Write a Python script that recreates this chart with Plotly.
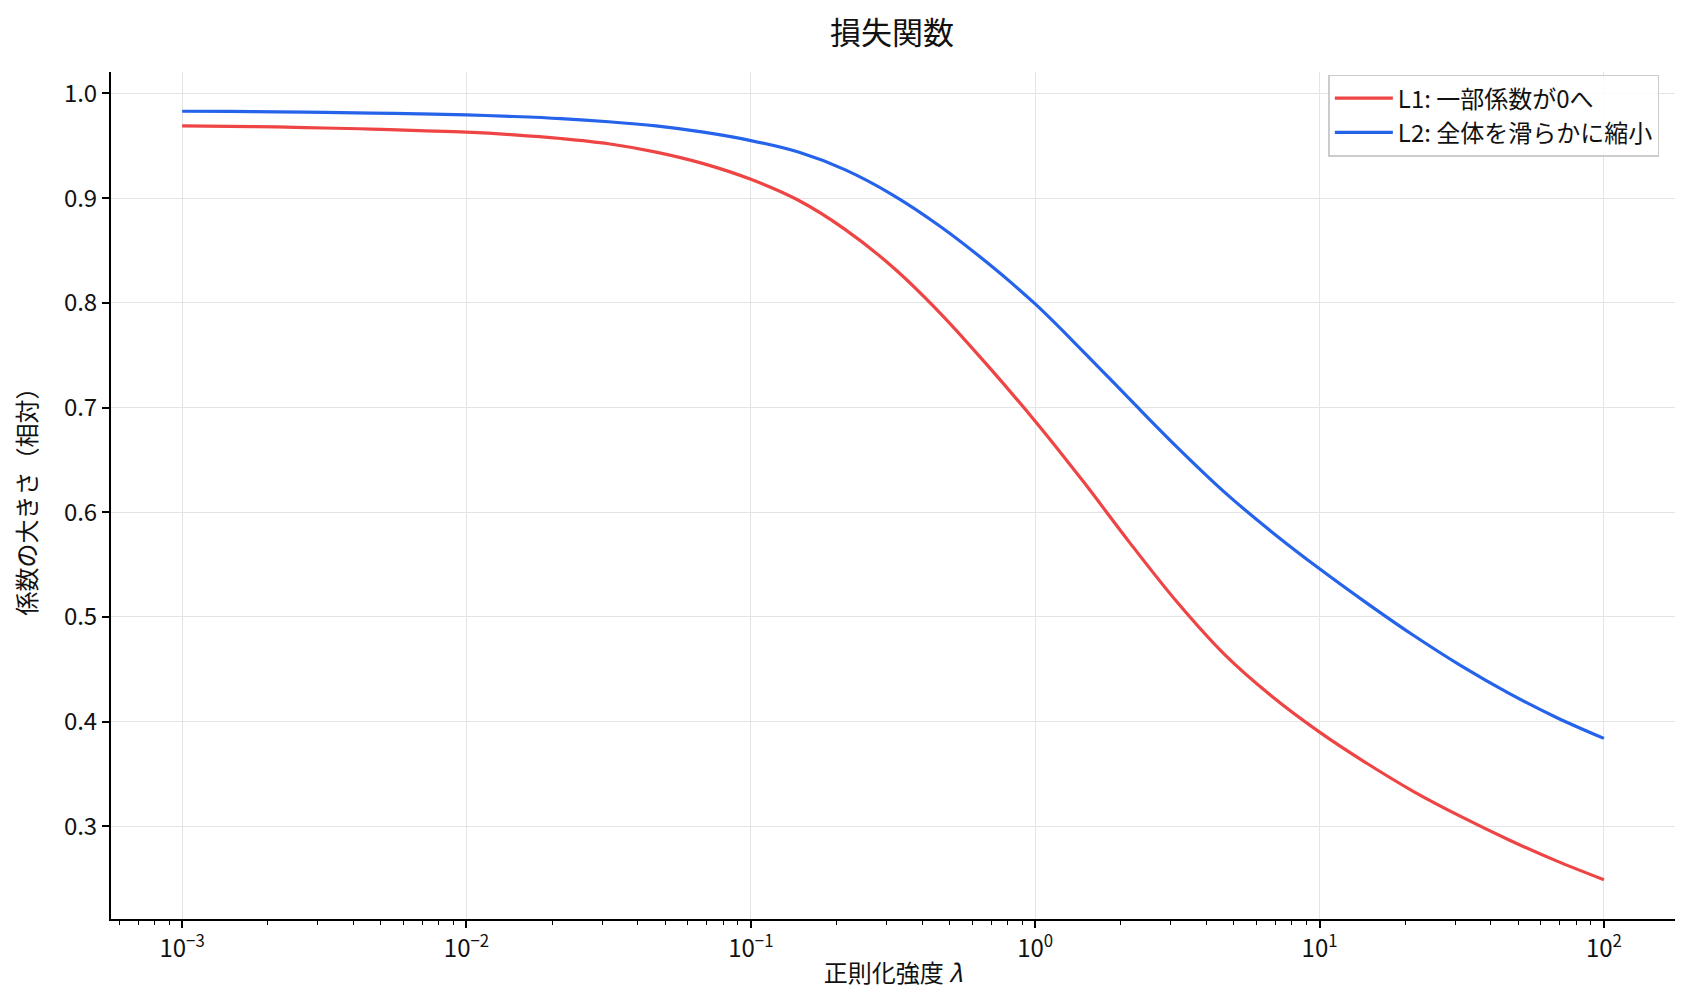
import plotly.graph_objects as go

# regularisation strength, 1/6-decade grid from 1e-3 to 1e2
lam = [0.001, 0.00147, 0.00215, 0.00316, 0.00464, 0.00681,
       0.01, 0.0147, 0.0215, 0.0316, 0.0464, 0.0681,
       0.1, 0.147, 0.215, 0.316, 0.464, 0.681,
       1.0, 1.47, 2.15, 3.16, 4.64, 6.81,
       10.0, 14.7, 21.5, 31.6, 46.4, 68.1, 100.0]

l1_vals = [0.969, 0.9685, 0.968, 0.967, 0.966, 0.9645,
           0.963, 0.9605, 0.957, 0.952, 0.944, 0.933,
           0.918, 0.898, 0.870, 0.834, 0.790, 0.740,
           0.687, 0.630, 0.571, 0.514, 0.464, 0.424,
           0.390, 0.360, 0.333, 0.309, 0.287, 0.267, 0.249]

l2_vals = [0.983, 0.9828, 0.9825, 0.982, 0.9813, 0.9805,
           0.9795, 0.978, 0.976, 0.973, 0.969, 0.963,
           0.955, 0.944, 0.927, 0.903, 0.873, 0.838,
           0.799, 0.754, 0.708, 0.662, 0.619, 0.581,
           0.546, 0.513, 0.482, 0.453, 0.427, 0.404, 0.384]

names = ["L1: 一部係数が0へ", "L2: 全体を滑らかに縮小"]
colors = ["#EF4444", "#2563EB"]

x_ticks = [0.001, 0.01, 0.1, 1, 10, 100]
x_ticktext = ["10<sup>−3</sup>", "10<sup>−2</sup>", "10<sup>−1</sup>",
              "10<sup>0</sup>", "10<sup>1</sup>", "10<sup>2</sup>"]

FONT = "Noto Sans CJK JP"

fig = go.Figure()
for name, vals, col in zip(names, [l1_vals, l2_vals], colors):
    fig.add_trace(go.Scatter(x=lam, y=vals, mode="lines", name=name,
                             line=dict(color=col, width=3.2, shape="spline",
                                       smoothing=1.0)))

fig.update_layout(
    width=1684, height=1004,
    paper_bgcolor="white", plot_bgcolor="white",
    margin=dict(l=103, r=17, t=64, b=93),
    font=dict(family=FONT, size=24, color="#111111"),
    title=dict(text="損失関数", x=0.525, xanchor="center", y=0.975, yanchor="middle",
               font=dict(family=FONT, size=31, color="#111111")),
    legend=dict(x=0.99, y=0.997, xanchor="right", yanchor="top",
                bgcolor="rgba(255,255,255,0.85)", bordercolor="#cccccc", borderwidth=1.5,
                font=dict(family=FONT, size=24), itemwidth=58),
    showlegend=True,
)

fig.update_xaxes(
    type="log", range=[-3.25, 2.25], tickvals=x_ticks, ticktext=x_ticktext,
    showline=True, linecolor="black", linewidth=2, mirror=False,
    ticks="outside", ticklen=7, tickwidth=1.5, tickcolor="black",
    showgrid=True, gridcolor="#e4e4e4", gridwidth=1.2, zeroline=False,
    minor=dict(ticks="outside", ticklen=4, tickwidth=1, tickcolor="black",
               dtick="D1", showgrid=False),
    title=dict(text="正則化強度 <i>λ</i>", font=dict(family=FONT, size=24), standoff=2),
    tickfont=dict(family=FONT, size=24),
)
fig.update_yaxes(
    range=[0.2115, 1.0205], dtick=0.1, tickformat=".1f",
    showline=True, linecolor="black", linewidth=2,
    ticks="outside", ticklen=7, tickwidth=1.5, tickcolor="black",
    showgrid=True, gridcolor="#e4e4e4", gridwidth=1.2, zeroline=False,
    title=dict(text="係数の大きさ（相対）", font=dict(family=FONT, size=24), standoff=20),
    tickfont=dict(family=FONT, size=24),
)

fig.write_html("out.html")
